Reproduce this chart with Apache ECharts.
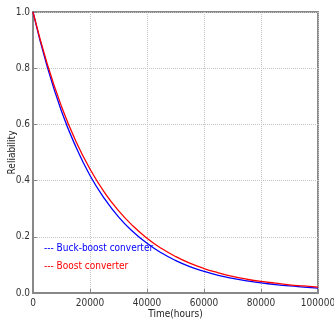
<!DOCTYPE html>
<html><head><meta charset="utf-8">
<script src="https://cdn.jsdelivr.net/npm/echarts@6/dist/echarts.min.js"></script>
<style>html,body{margin:0;padding:0;background:#fff}#c{width:334px;height:320px}</style>
</head><body><div id="c"></div>
<script>
var hours = [0,5000,10000,15000,20000,25000,30000,35000,40000,45000,50000,55000,60000,65000,70000,75000,80000,85000,90000,95000,100000];
var buckBoost = [1.0,0.805,0.647,0.521,0.418,0.337,0.271,0.219,0.177,0.143,0.116,0.094,0.077,0.063,0.052,0.043,0.036,0.030,0.025,0.021,0.017];
var boost = [1.0,0.815,0.664,0.541,0.441,0.359,0.293,0.239,0.195,0.159,0.130,0.106,0.087,0.072,0.059,0.049,0.041,0.035,0.029,0.025,0.021];
var xTicks = [0,20000,40000,60000,80000,100000];
var yTicks = [0.0,0.2,0.4,0.6,0.8,1.0];
var names = ['Buck-boost converter','Boost converter'];
var font = '"DejaVu Sans Condensed","Liberation Sans Narrow","DejaVu Sans",sans-serif';
function pairs(x,y){return x.map(function(v,i){return [v,y[i]];});}
var chart = echarts.init(document.getElementById('c'));
chart.setOption({
  animation:false,
  grid:{left:33,right:16,top:12,bottom:27,show:true,borderColor:'#888',borderWidth:2,containLabel:false,outerBoundsMode:'none'},
  legend:{orient:'vertical',left:34,top:236,itemGap:6,icon:'none',itemWidth:0,
    formatter:function(n){return '--- '+n;},
    textStyle:{fontFamily:font,fontSize:10},
    data:[{name:names[0],textStyle:{color:'#0000ff'}},{name:names[1],textStyle:{color:'#ff0000'}}]},
  xAxis:{type:'value',min:xTicks[0],max:xTicks[xTicks.length-1],interval:20000,
    name:'Time(hours)',nameLocation:'middle',nameGap:16,nameMoveOverlap:false,
    nameTextStyle:{fontFamily:font,fontSize:10,color:'#222'},
    axisLine:{lineStyle:{color:'#888',width:2}},
    axisTick:{inside:true,length:4,lineStyle:{color:'#888'}},
    axisLabel:{fontFamily:font,fontSize:10,color:'#333',margin:5,formatter:function(v){return String(v);}},
    splitLine:{show:true,lineStyle:{color:'#c4c4c4',type:'dotted'}}},
  yAxis:{type:'value',min:yTicks[0],max:yTicks[yTicks.length-1],interval:0.2,
    name:'Reliability',nameLocation:'middle',nameGap:16,nameMoveOverlap:false,
    nameTextStyle:{fontFamily:font,fontSize:10,color:'#222'},
    axisLine:{lineStyle:{color:'#888',width:2}},
    axisTick:{inside:true,length:4,lineStyle:{color:'#888'}},
    axisLabel:{fontFamily:font,fontSize:10,color:'#333',margin:3,formatter:function(v){return v.toFixed(1);}},
    splitLine:{show:true,lineStyle:{color:'#c4c4c4',type:'dotted'}}},
  series:[
    {name:names[0],type:'line',smooth:true,showSymbol:false,data:pairs(hours,buckBoost),lineStyle:{color:'#0000ff',width:1.3},itemStyle:{color:'#0000ff'}},
    {name:names[1],type:'line',smooth:true,showSymbol:false,data:pairs(hours,boost),lineStyle:{color:'#ff0000',width:1.3},itemStyle:{color:'#ff0000'}}
  ]
});
</script></body></html>
